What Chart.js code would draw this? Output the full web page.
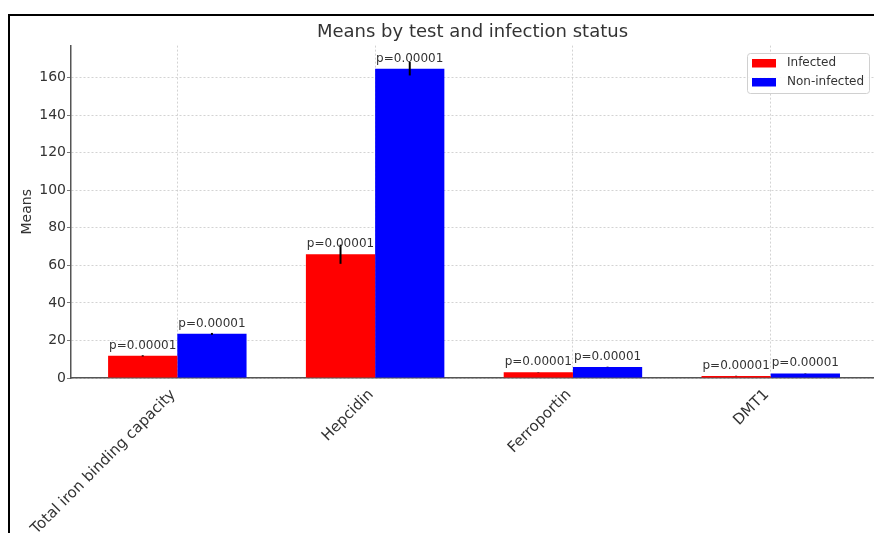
<!DOCTYPE html>
<html>
<head>
<meta charset="utf-8">
<script src="https://cdn.jsdelivr.net/npm/chart.js@4.4.1/dist/chart.umd.min.js"></script>
<style>
    html, body { margin: 0; padding: 0; background: #fff; overflow: hidden; }
    #wrap { position: relative; width: 874px; height: 533px; }
    #frame {
        position: absolute; left: 8px; top: 14px; width: 874px; height: 533px;
        border-left: 2px solid #000; border-top: 2px solid #000; pointer-events: none;
    }
</style>
</head>
<body>
<div id="wrap">
    <canvas id="meansChart" width="874" height="533"></canvas>
    <div id="frame"></div>
</div>
<script>
// data
const categories = ['Total iron binding capacity', 'Hepcidin', 'Ferroportin', 'DMT1'];
const seriesNames = ['Infected', 'Non-infected'];
const seriesColors = ['#ff0000', '#0000ff'];
const infectedMeans = [11.8, 65.9, 3.0, 1.1];
const nonInfectedMeans = [23.5, 164.7, 5.9, 2.4];
const infectedErr = [0.3, 5.1, 0.1, 0.1];
const nonInfectedErr = [0.5, 3.6, 0.1, 0.1];
const infectedP = ['p=0.00001', 'p=0.00001', 'p=0.00001', 'p=0.00001'];
const nonInfectedP = ['p=0.00001', 'p=0.00001', 'p=0.00001', 'p=0.00001'];
const yTicks = [0, 20, 40, 60, 80, 100, 120, 140, 160];

const FONT = "'DejaVu Sans', sans-serif";
const TEXT = '#333333';

const errors = [infectedErr, nonInfectedErr];
const pLabels = [infectedP, nonInfectedP];

// error bars, p-value texts and the legend box
const annotatePlugin = {
    id: 'annotate',
    afterDatasetsDraw(chart) {
        const ctx = chart.ctx;
        const y = chart.scales.y;
        ctx.save();
        chart.data.datasets.forEach((ds, i) => {
            const meta = chart.getDatasetMeta(i);
            meta.data.forEach((bar, j) => {
                const v = ds.data[j].y;
                const e = errors[i][j];
                ctx.strokeStyle = '#000';
                ctx.lineWidth = 2;
                ctx.beginPath();
                ctx.moveTo(bar.x, y.getPixelForValue(v + e));
                ctx.lineTo(bar.x, y.getPixelForValue(v - e));
                ctx.stroke();
            });
        });
        ctx.font = '12px ' + FONT;
        ctx.fillStyle = TEXT;
        ctx.textAlign = 'center';
        ctx.textBaseline = 'alphabetic';
        chart.data.datasets.forEach((ds, i) => {
            const meta = chart.getDatasetMeta(i);
            meta.data.forEach((bar, j) => {
                ctx.fillText(pLabels[i][j], bar.x, bar.y - 7);
            });
        });

        // legend
        const lx = 747, ly = 53, lw = 122, lh = 40;
        ctx.fillStyle = 'rgba(255,255,255,0.85)';
        ctx.strokeStyle = '#d0d0d0';
        ctx.lineWidth = 1;
        ctx.beginPath();
        ctx.roundRect(lx + 0.5, ly + 0.5, lw, lh, 3);
        ctx.fill();
        ctx.stroke();
        ctx.textAlign = 'left';
        ctx.textBaseline = 'middle';
        seriesNames.forEach((name, k) => {
            const cy = 63 + k * 19;
            ctx.fillStyle = seriesColors[k];
            ctx.fillRect(752, cy - 4, 24, 8.5);
            ctx.fillStyle = TEXT;
            ctx.fillText(name, 787, cy);
        });
        ctx.restore();
    }
};

const ctx = document.getElementById('meansChart').getContext('2d');

new Chart(ctx, {
    type: 'bar',
    data: {
        datasets: [
            {
                label: seriesNames[0],
                data: infectedMeans.map((v, i) => ({ x: i, y: v })),
                backgroundColor: seriesColors[0]
            },
            {
                label: seriesNames[1],
                data: nonInfectedMeans.map((v, i) => ({ x: i, y: v })),
                backgroundColor: seriesColors[1]
            }
        ]
    },
    options: {
        responsive: false,
        animation: false,
        devicePixelRatio: 1,
        categoryPercentage: 0.7,
        barPercentage: 1.0,
        layout: { padding: 0 },
        plugins: {
            legend: { display: false },
            tooltip: { enabled: false },
            title: {
                display: true,
                text: 'Means by test and infection status',
                fullSize: false,
                color: TEXT,
                font: { family: FONT, size: 18, weight: 'normal' },
                padding: { top: 22, bottom: 2 }
            }
        },
        scales: {
            x: {
                type: 'linear',
                offset: false,
                min: -0.5375,
                max: 3.522,
                afterBuildTicks: (scale) => {
                    scale.ticks = categories.map((c, i) => ({ value: i }));
                },
                afterFit: (scale) => { scale.height = 155; },
                grid: {
                    offset: false,
                    color: '#c8c8c8',
                    lineWidth: 0.8,
                    drawTicks: false
                },
                border: { display: true, color: '#555', width: 1.5, dash: [2, 2] },
                ticks: {
                    color: TEXT,
                    font: { family: FONT, size: 15 },
                    minRotation: 45,
                    maxRotation: 45,
                    padding: 8,
                    labelOffset: -4,
                    callback: (v) => categories[v]
                }
            },
            y: {
                min: 0,
                max: 177,
                afterBuildTicks: (scale) => {
                    scale.ticks = yTicks.map(v => ({ value: v }));
                },
                afterFit: (scale) => { scale.width = 71; },
                grid: {
                    color: '#c8c8c8',
                    lineWidth: 0.8,
                    tickLength: 4,
                    tickColor: '#555',
                    tickBorderDash: []
                },
                border: { display: true, color: '#555', width: 1.5, dash: [2, 2] },
                ticks: {
                    color: TEXT,
                    font: { family: FONT, size: 14 },
                    padding: 1
                },
                title: {
                    display: true,
                    text: 'Means',
                    color: TEXT,
                    font: { family: FONT, size: 14 },
                    padding: { top: 19, bottom: 0 }
                }
            }
        }
    },
    plugins: [annotatePlugin]
});
</script>
</body>
</html>
